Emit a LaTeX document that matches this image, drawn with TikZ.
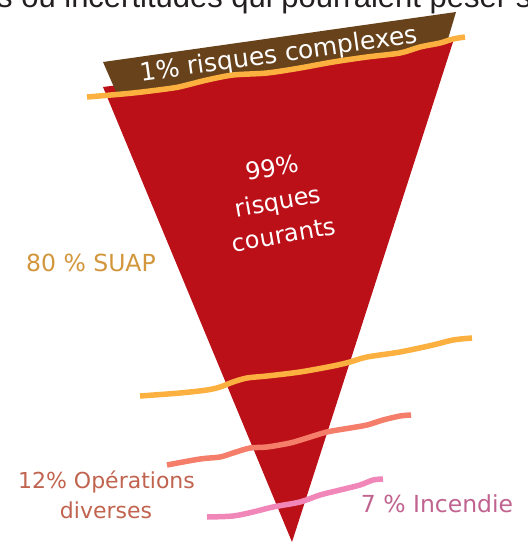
\documentclass[tikz,border=0pt]{standalone}
\usepackage{fontspec}
\setmainfont{DejaVu Sans}
\newfontfamily\topfont{Liberation Sans}
\definecolor{funnelred}{RGB}{188,16,25}
\definecolor{capbrown}{RGB}{104,66,26}
\definecolor{lineorange}{RGB}{251,176,64}
\definecolor{linesalmon}{RGB}{244,126,106}
\definecolor{linepink}{RGB}{240,135,184}
\definecolor{txtgold}{RGB}{210,150,60}
\definecolor{txtsalmon}{RGB}{192,99,79}
\definecolor{txtpink}{RGB}{192,100,143}
\definecolor{txtdark}{RGB}{35,31,32}
\tikzset{
  wave/.style={line width=5.5pt, line cap=butt, line join=round},
  lbl/.style={inner sep=0pt, anchor=base, font=\fontsize{23.5}{28}\selectfont},
}
\begin{document}
\begin{tikzpicture}[x=1pt,y=-1pt]
\useasboundingbox (0,0) rectangle (528,542);
% top cut text
\node[inner sep=0pt, anchor=base west, text=txtdark, font=\topfont\fontsize{31}{36}\selectfont] (toptext) at (-3,7.5) {s ou incertitudes qui pourraient peser s};
% funnel
\fill[funnelred] (103,87) -- (453,42) -- (292,542) -- cycle;
% brown cap
\fill[capbrown] (103,62) -- (456,12) -- (448,39) -- (440,43) -- (420,47) -- (400,53) -- (367,57) -- (333,62) -- (300,68) -- (267,73) -- (233,75) -- (207,80) -- (187,85) -- (173,88) -- (133,93) -- (117,94) -- cycle;
\node[inner sep=0pt, anchor=base, text=white, rotate=8, font=\fontsize{25}{30}\selectfont] (complex) at (280,62) {1\% risques complexes};
% top orange line
\draw[wave, lineorange] plot[smooth, tension=0.5] coordinates {(87,97) (133,93) (173,88) (187,85) (207,80) (233,75) (267,73) (300,68) (333,62) (367,57) (400,53) (420,47) (440,43) (453,39) (465,37)};
% center text
\node[inner sep=0pt, text=white, rotate=10, align=center, font=\fontsize{24}{34}\selectfont] (courants) at (278,201) {99\%\\risques\\courants};
% lower lines
\draw[wave, lineorange] plot[smooth, tension=0.5] coordinates {(140,396) (180,393) (207,390) (220,387) (233,382) (247,378) (267,376) (300,372) (333,366) (350,362) (367,357) (400,352) (433,345) (453,340) (472,338)};
\draw[wave, linesalmon] plot[smooth, tension=0.5] coordinates {(167,465) (200,459) (220,457) (233,453) (250,448) (267,447) (290,443) (307,438) (327,432) (350,428) (367,425) (383,420) (400,416) (411,415)};
\draw[wave, linepink] plot[smooth, tension=0.5] coordinates {(207,517) (233,516) (253,512) (273,507) (300,502) (320,495) (340,490) (360,485) (373,480) (383,479)};
% labels
\node[lbl, text=txtgold] (suap) at (91,271) {80 \% SUAP};
\node[lbl, text=txtsalmon, font=\fontsize{22}{30}\selectfont] (ops1) at (106.5,488) {12\% Opérations};
\node[lbl, text=txtsalmon, font=\fontsize{22}{30}\selectfont] (ops2) at (106,518) {diverses};
\node[lbl, text=txtpink] (incendie) at (437,512) {7 \% Incendie};
\end{tikzpicture}
\end{document}
